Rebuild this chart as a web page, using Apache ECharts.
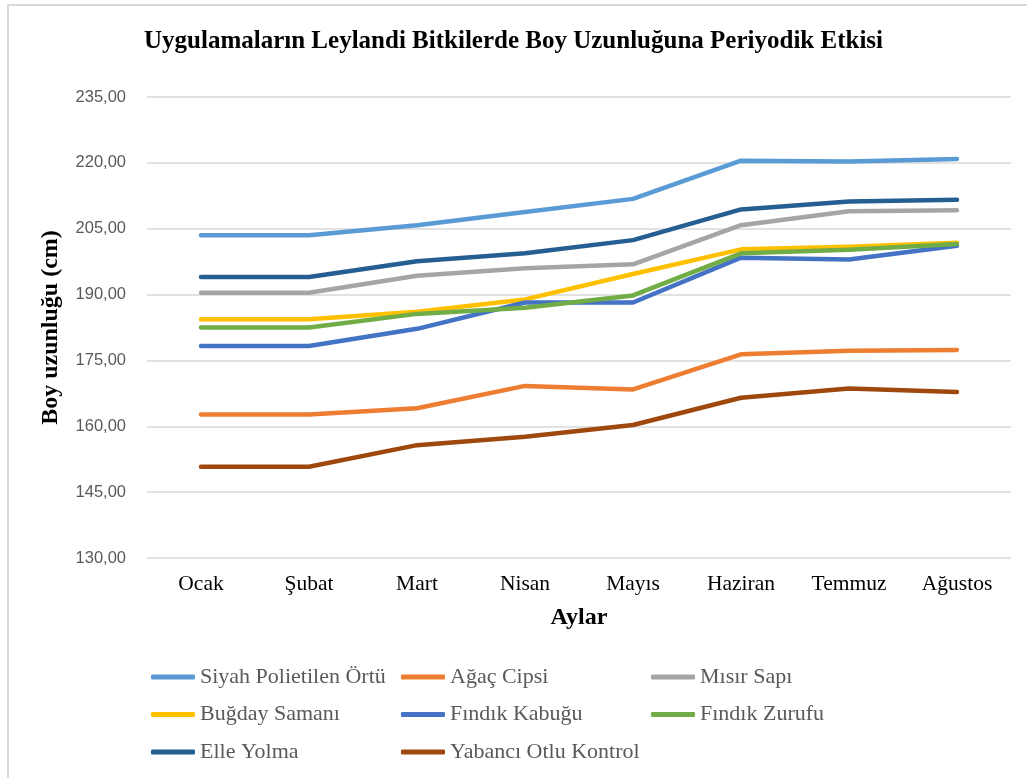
<!DOCTYPE html>
<html>
<head>
<meta charset="utf-8">
<title>Boy Uzunluğu</title>
<script src="https://cdn.jsdelivr.net/npm/echarts@6/dist/echarts.min.js"></script>
<style>
  html, body { margin: 0; padding: 0; background: #fff; }
  #chart { width: 1027px; height: 778px; }
  .frame {
    position: absolute; left: 7px; top: 4px; width: 1040px; height: 800px;
    border: 2px solid #d9d9d9; pointer-events: none;
  }
</style>
</head>
<body>
<div id="chart"></div>
<div class="frame"></div>
<script>
  // ==== veriler ====
  const months = ['Ocak', 'Şubat', 'Mart', 'Nisan', 'Mayıs', 'Haziran', 'Temmuz', 'Ağustos']
  const yTicks = [130, 145, 160, 175, 190, 205, 220, 235]

  const siyahPolietilen = [203.5, 203.5, 205.8, 208.8, 211.8, 220.5, 220.3, 220.9]
  const agacCipsi = [162.7, 162.7, 164.1, 169.2, 168.4, 176.4, 177.2, 177.4]
  const misirSapi = [190.4, 190.4, 194.3, 196.0, 196.9, 205.8, 209.0, 209.2]
  const bugdaySamani = [184.4, 184.4, 186.1, 188.9, 194.7, 200.3, 200.9, 201.8]
  const findikKabugu = [178.3, 178.3, 182.2, 188.2, 188.2, 198.4, 198.0, 201.1]
  const findikZurufu = [182.5, 182.5, 185.6, 187.0, 189.8, 199.4, 200.2, 201.5]
  const elleYolma = [194.0, 194.0, 197.6, 199.4, 202.4, 209.4, 211.2, 211.6]
  const yabanciOtlu = [150.8, 150.8, 155.7, 157.6, 160.3, 166.5, 168.6, 167.8]

  const seriesList = [
    { name: 'Siyah Polietilen Örtü', data: siyahPolietilen, color: '#5B9BD5' },
    { name: 'Ağaç Cipsi', data: agacCipsi, color: '#ED7D31' },
    { name: 'Mısır Sapı', data: misirSapi, color: '#A5A5A5' },
    { name: 'Buğday Samanı', data: bugdaySamani, color: '#FFC000' },
    { name: 'Fındık Kabuğu', data: findikKabugu, color: '#4472C4' },
    { name: 'Fındık Zurufu', data: findikZurufu, color: '#70AD47' },
    { name: 'Elle Yolma', data: elleYolma, color: '#255E91' },
    { name: 'Yabancı Otlu Kontrol', data: yabanciOtlu, color: '#9E480E' }
  ]

  const serif = '"Liberation Serif", "DejaVu Serif", serif'

  // legend, 3 sütun
  const legendCol = (names, left) => ({
    orient: 'vertical',
    left,
    top: 666,
    padding: 0,
    itemGap: 15.5,
    itemWidth: 44,
    itemHeight: 5,
    icon: 'roundRect',
    data: names,
    textStyle: { fontFamily: serif, fontSize: 22, color: '#595959' }
  })

  const chart = echarts.init(document.getElementById('chart'))

  chart.setOption({
    animation: false,
    title: {
      text: 'Uygulamaların Leylandi Bitkilerde Boy Uzunluğuna Periyodik Etkisi',
      left: 'center',
      top: 24,
      textStyle: { fontFamily: serif, fontSize: 25, fontWeight: 'bold', color: '#000' }
    },
    legend: [
      legendCol(['Siyah Polietilen Örtü', 'Buğday Samanı', 'Elle Yolma'], 151),
      legendCol(['Ağaç Cipsi', 'Fındık Kabuğu', 'Yabancı Otlu Kontrol'], 401),
      legendCol(['Mısır Sapı', 'Fındık Zurufu'], 651)
    ],
    grid: { left: 147, right: 16, top: 97, bottom: 220 },
    xAxis: {
      type: 'category',
      data: months,
      boundaryGap: true,
      name: 'Aylar',
      nameLocation: 'middle',
      nameGap: 48,
      nameTextStyle: { fontFamily: serif, fontSize: 24, fontWeight: 'bold', color: '#000' },
      axisLine: { show: false },
      axisTick: { show: false },
      axisLabel: { fontFamily: serif, fontSize: 21.5, color: '#000', margin: 15 }
    },
    yAxis: {
      type: 'value',
      min: 130,
      max: 235,
      name: 'Boy uzunluğu (cm)',
      nameLocation: 'middle',
      nameGap: 84,
      nameTextStyle: { fontFamily: serif, fontSize: 24, fontWeight: 'bold', color: '#000' },
      axisLine: { show: false },
      axisTick: { show: false, customValues: yTicks },
      axisLabel: {
        customValues: yTicks,
        fontFamily: '"Liberation Sans", Arial, sans-serif',
        fontSize: 16.5,
        color: '#595959',
        margin: 21,
        formatter: (v) => v.toFixed(2).replace('.', ',')
      },
      splitLine: { lineStyle: { color: '#d9d9d9', width: 1.5 } }
    },
    series: seriesList.map((s) => ({
      name: s.name,
      type: 'line',
      data: s.data,
      symbol: 'none',
      color: s.color,
      lineStyle: { width: 4.5, cap: 'round', join: 'round' }
    }))
  })
</script>
</body>
</html>
